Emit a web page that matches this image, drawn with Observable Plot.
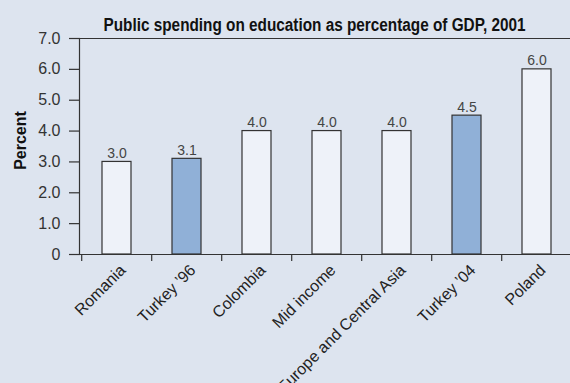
<!DOCTYPE html>
<html>
<head>
<meta charset="utf-8">
<script src="https://cdn.jsdelivr.net/npm/d3@7"></script>
<script src="https://cdn.jsdelivr.net/npm/@observablehq/plot@0.6"></script>
<style>
  html, body { margin: 0; padding: 0; background: #dde4ef; overflow: hidden; }
  #chart svg { display: block; background: #dde4ef; }
</style>
</head>
<body>
<div id="chart"></div>
<script>
const title = "Public spending on education as percentage of GDP, 2001";
const yLabel = "Percent";
const categories = ["Romania", "Turkey \u201996", "Colombia", "Mid income", "Europe and Central Asia", "Turkey \u201904", "Poland"];
const values = [3.0, 3.1, 4.0, 4.0, 4.0, 4.5, 6.0];
const groups = ["Other", "Turkey", "Other", "Other", "Other", "Turkey", "Other"];
const yTicks = [0, 1, 2, 3, 4, 5, 6, 7];

const data = categories.map((c, i) => ({category: c, value: values[i], group: groups[i]}));
const font = "'Liberation Sans', Arial, sans-serif";

const plot = Plot.plot({
  width: 570,
  height: 383,
  marginTop: 38,
  marginBottom: 129,
  marginLeft: 79,
  marginRight: -3,
  style: {background: "#dde4ef", fontFamily: font, color: "#222", overflow: "hidden"},
  x: {domain: categories, paddingInner: 0.59, paddingOuter: 0.295, label: null},
  y: {domain: [0, 7], label: null},
  color: {domain: ["Other", "Turkey"], range: ["#eef2f9", "#90b0d7"]},
  marks: [
    Plot.barY(data, {x: "category", y: "value", fill: "group", stroke: "#333", strokeWidth: 1.2}),
    Plot.ruleY([0], {stroke: "#333", strokeWidth: 1.2}),
    Plot.ruleY([7], {stroke: "#333", strokeWidth: 1.2}),
    Plot.frame({anchor: "left", stroke: "#333", strokeWidth: 1.2}),
    Plot.axisY({ticks: yTicks, tickSize: 10, tickPadding: 9, tickFormat: d => d === 0 ? "0" : d.toFixed(1),
      fontSize: 16, fill: "#333", stroke: "#333", strokeWidth: 1.2, label: null}),
    Plot.axisX({tickSize: 7, tickFormat: () => "", dx: -35.3, stroke: "#333", strokeWidth: 1.2, label: null}),
    Plot.axisX({tickSize: 0, tickPadding: 13, tickRotate: -45, fontSize: 16, fill: "#222", dx: 6, label: null}),
    Plot.text(data, {x: "category", y: "value", text: d => d.value.toFixed(1), lineAnchor: "bottom", dy: -4,
      fontSize: 14, fill: "#444"}),
    Plot.text([yLabel], {frameAnchor: "left", textAnchor: "middle", rotate: -90, dx: -59, dy: -6, fontSize: 16, fontWeight: "bold", fill: "#111"}),
    Plot.text([title], {frameAnchor: "top", textAnchor: "middle", dx: -12, dy: -8, lineAnchor: "bottom", fontSize: 18, fontWeight: "bold", fill: "#111"})
  ]
});
document.getElementById("chart").appendChild(plot);
// condense the title to mimic the narrow typeface of the reference
plot.querySelectorAll("text").forEach(t => {
  if (t.textContent === title) {
    t.setAttribute("textLength", 422);
    t.setAttribute("lengthAdjust", "spacingAndGlyphs");
  }
});
</script>
</body>
</html>
